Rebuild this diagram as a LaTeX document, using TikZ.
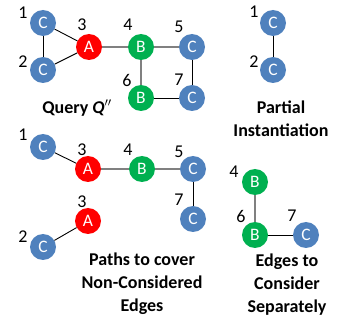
\documentclass[tikz,border=0pt]{standalone}
\usepackage{fontspec}
\setmainfont{Carlito}
\begin{document}
\begin{tikzpicture}[x=1pt,y=-1pt,
  vtx/.style={circle,minimum size=26pt,inner sep=0pt,text=white,font=\fontsize{17.5}{17.5}\selectfont},
  cv/.style={vtx,fill=cblue},
  av/.style={vtx,fill=ared},
  bv/.style={vtx,fill=bgreen},
  lbl/.style={font=\fontsize{18}{18}\selectfont,inner sep=0pt},
  captxt/.style={font=\bfseries\fontsize{18}{23}\selectfont,align=center,inner sep=0pt},
  ke/.style={draw=black,line width=0.9pt},
  ge/.style={draw=gray,line width=1.2pt}]
\definecolor{cblue}{RGB}{79,129,189}
\definecolor{ared}{RGB}{255,0,0}
\definecolor{bgreen}{RGB}{0,176,80}
\useasboundingbox (0,0) rectangle (357,326);
% Query Q''
\node[cv] (q1) at (43,23) {C};
\node[cv] (q2) at (43,70) {C};
\node[av] (q3) at (89,47) {A};
\node[bv] (q4) at (141,47) {B};
\node[cv] (q5) at (192,47) {C};
\node[bv] (q6) at (141,98) {B};
\node[cv] (q7) at (192,98) {C};
\draw[ke] (q1) -- (q2);
\draw[ke] (q1) -- (q3);
\draw[ke] (q2) -- (q3);
\draw[ge] (q3) -- (q4);
\draw[ge] (q4) -- (q5);
\draw[ge] (q4) -- (q6);
\draw[ke] (q6) -- (q7);
\draw[ke] (q5) -- (q7);
\node[lbl] (lq1) at (23,13) {1};
\node[lbl] (lq2) at (23,62) {2};
\node[lbl] (lq3) at (82,25) {3};
\node[lbl] (lq4) at (128,25) {4};
\node[lbl] (lq5) at (179,27) {5};
\node[lbl] (lq6) at (127,80) {6};
\node[lbl] (lq7) at (179,80) {7};
\node[captxt] (capq) at (77,108) {Query \textit{Q}$^{\prime\prime}$};
% Partial instantiation
\node[cv] (p1) at (273,23) {C};
\node[cv] (p2) at (273,70) {C};
\draw[ke] (p1) -- (p2);
\node[lbl] (lp1) at (254,12) {1};
\node[lbl] (lp2) at (254,62) {2};
\node[captxt] (capp) at (281,119) {Partial\\Instantiation};
% Paths
\node[cv] (r1) at (43,147) {C};
\node[av] (r3) at (88,169) {A};
\node[bv] (r4) at (142,169) {B};
\node[cv] (r5) at (193,169) {C};
\node[cv] (r7) at (193,219) {C};
\node[av] (s3) at (88,221) {A};
\node[cv] (s2) at (43,247) {C};
\draw[ke] (r1) -- (r3);
\draw[ge] (r3) -- (r4);
\draw[ge] (r4) -- (r5);
\draw[ke] (r5) -- (r7);
\draw[ke] (s2) -- (s3);
\node[lbl] (lr1) at (23,135) {1};
\node[lbl] (lr3) at (82,150) {3};
\node[lbl] (lr4) at (128,150) {4};
\node[lbl] (lr5) at (179,152) {5};
\node[lbl] (lr7) at (179,200) {7};
\node[lbl] (ls3) at (82,202) {3};
\node[lbl] (ls2) at (23,237) {2};
\node[captxt] (capr) at (142,284) {Paths to cover\\Non-Considered\\Edges};
% Edges to consider separately
\node[bv] (e4) at (255,182) {B};
\node[bv] (e6) at (255,235) {B};
\node[cv] (e7) at (306,235) {C};
\draw[ge] (e4) -- (e6);
\draw[ke] (e6) -- (e7);
\node[lbl] (le4) at (234,172) {4};
\node[lbl] (le6) at (241,216) {6};
\node[lbl] (le7) at (292,216) {7};
\node[captxt] (cape) at (287,285) {Edges to\\Consider\\Separately};
\end{tikzpicture}
\end{document}
